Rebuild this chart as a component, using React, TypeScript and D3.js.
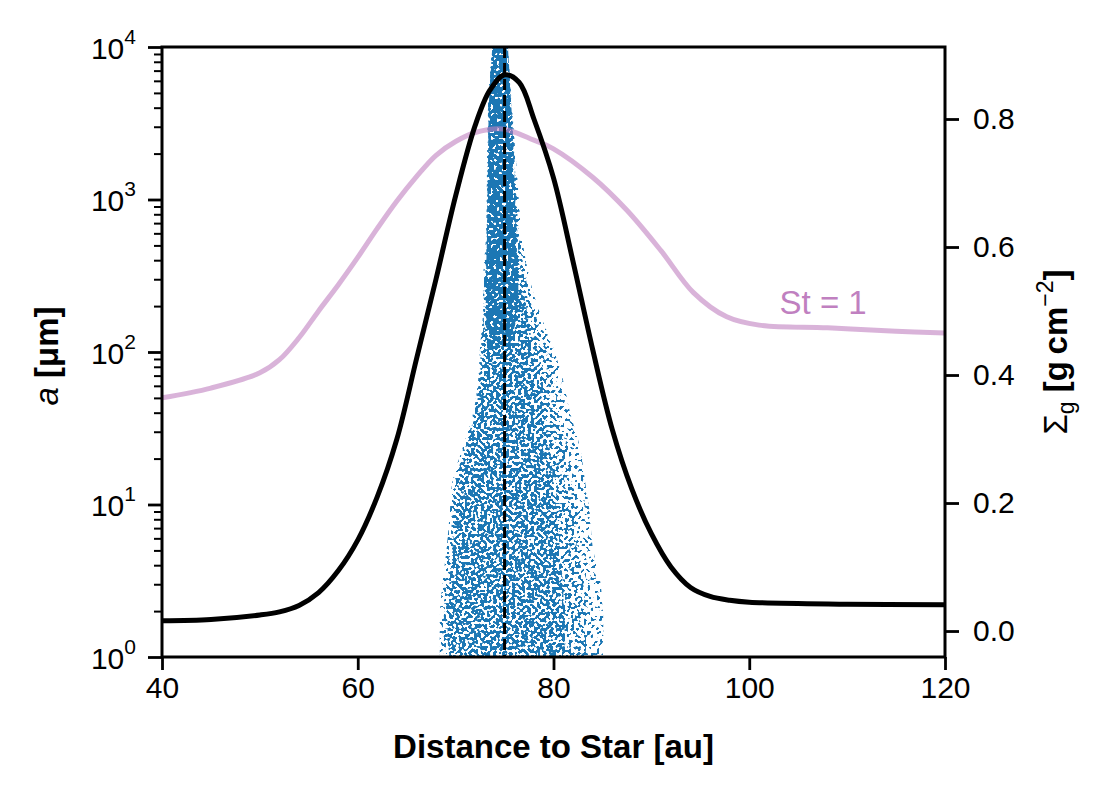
import React, { useEffect, useRef } from "react";
import * as d3 from "d3";

// gas surface density (right axis)
const sigmaR = [40, 45, 50, 52, 54, 56, 58, 60, 62, 64, 66, 68, 70, 72, 73.5, 75, 76.5, 78, 80, 82, 84, 86, 88, 90, 92, 94, 96, 98, 100, 110, 120];
const sigmaGas = [0.016, 0.018, 0.025, 0.03, 0.04, 0.06, 0.094, 0.142, 0.21, 0.3, 0.425, 0.55, 0.68, 0.79, 0.845, 0.869, 0.857, 0.8, 0.708, 0.577, 0.44, 0.315, 0.222, 0.152, 0.1, 0.068, 0.054, 0.048, 0.045, 0.042, 0.041];

// St = 1 particle size (left axis)
const stR = [40, 45, 50, 52, 54, 56, 58, 60, 62, 64, 66, 68, 70, 72, 74.8, 78, 80, 84, 87.5, 91, 94.3, 97.7, 101, 108, 115, 120];
const stSize = [50, 58, 73, 89, 124, 186, 275, 417, 646, 977, 1413, 1950, 2400, 2750, 2900, 2450, 2150, 1400, 850, 460, 245, 170, 150, 144, 137, 133];

// particle cloud, read as density envelopes: size level [um], left / right edge [au]
const cloudSize = [10000, 4040, 1493, 568, 297, 180, 108, 65.5, 39.8, 23.8, 14.5, 8.8, 5.26, 3.2, 1.94, 1];
const cloudOuterL = [73.72, 73.31, 73.2, 73.1, 72.8, 72.8, 72.5, 72.3, 71.8, 70.75, 69.7, 69.4, 69.1, 68.7, 68.4, 68.4];
const cloudOuterR = [75.35, 75.76, 76.27, 76.78, 77.6, 78.6, 79.95, 80.97, 81.7, 82.7, 83.2, 83.7, 84.0, 84.75, 85.06, 85.06];
const cloudMidL = [73.75, 73.35, 73.25, 73.15, 72.9, 72.85, 72.6, 72.4, 71.9, 71.0, 70.0, 69.7, 69.4, 69.0, 68.8, 68.8];
const cloudMidR = [75.3, 75.7, 76.1, 76.5, 77.2, 78.0, 79.2, 80.0, 80.6, 81.3, 81.8, 82.2, 82.6, 83.0, 83.3, 83.3];
const cloudInnerL = [73.8, 73.4, 73.3, 73.2, 73.0, 72.9, 72.7, 72.5, 72.0, 71.2, 70.4, 70.0, 69.7, 69.4, 69.2, 69.2];
const cloudInnerR = [75.3, 75.6, 76.0, 76.3, 76.8, 77.3, 77.9, 78.5, 79.0, 79.6, 80.0, 80.3, 80.6, 80.9, 81.1, 81.1];
const coreSize = [10000, 4040, 1493, 568, 297, 180, 108];
const coreL = [73.75, 73.4, 73.3, 73.2, 73.1, 73.1, 73.5];
const coreR = [75.35, 75.7, 76.0, 76.2, 76.4, 76.3, 75.5];

const peakR = 75;

const xTicks = [40, 60, 80, 100, 120];
const leftTicks = [1, 10, 100, 1000, 10000];
const rightTicks = [0, 0.2, 0.4, 0.6, 0.8];

const W = 1112;
const H = 796;
const m = { left: 162, right: 945, top: 47, bottom: 657 };
const font = "'Liberation Sans', Arial, sans-serif";
const blue = "#1f77b4";
const purple = "#c080c0";

export default function App() {
  const ref = useRef<SVGSVGElement>(null);

  useEffect(() => {
    const svg = d3.select(ref.current);
    svg.selectAll("*").remove();

    const x = d3.scaleLinear().domain([40, 120]).range([m.left, m.right]);
    const yA = d3.scaleLog().domain([1, 1e4]).range([m.bottom, m.top]);
    const yS = d3.scaleLinear().domain([-0.0406, 0.9125]).range([m.bottom, m.top]);

    const defs = svg.append("defs");
    defs
      .append("clipPath")
      .attr("id", "plot")
      .append("rect")
      .attr("x", m.left)
      .attr("y", m.top)
      .attr("width", m.right - m.left)
      .attr("height", m.bottom - m.top);

    // one shared noise field, cut at different levels, so the cloud reads as dots
    const speckle = (id: string, threshold: number) => {
      const f = defs
        .append("filter")
        .attr("id", id)
        .attr("filterUnits", "userSpaceOnUse")
        .attr("x", 0)
        .attr("y", 0)
        .attr("width", W)
        .attr("height", H);
      f.append("feTurbulence")
        .attr("type", "fractalNoise")
        .attr("baseFrequency", 0.32)
        .attr("numOctaves", 1)
        .attr("seed", 5)
        .attr("result", "noise");
      const s = 40;
      f.append("feColorMatrix")
        .attr("in", "noise")
        .attr("type", "matrix")
        .attr("values", `0 0 0 0 0  0 0 0 0 0  0 0 0 0 0  ${s} 0 0 0 ${-s * threshold}`)
        .attr("result", "mask");
      f.append("feComposite").attr("in", "SourceGraphic").attr("in2", "mask").attr("operator", "in");
    };
    speckle("outer", 0.58);
    speckle("mid", 0.52);
    speckle("inner", 0.46);
    speckle("core", 0.36);

    const g = svg.append("g").attr("clip-path", "url(#plot)");

    const cloud = (sizes: number[], L: number[], R: number[]) =>
      d3
        .area<number>()
        .y((d) => yA(d))
        .x0((_, i) => x(L[i]))
        .x1((_, i) => x(R[i]))
        .curve(d3.curveCatmullRom)(sizes);

    g.append("path").attr("d", cloud(cloudSize, cloudOuterL, cloudOuterR)).attr("fill", blue).attr("filter", "url(#outer)");
    g.append("path").attr("d", cloud(cloudSize, cloudMidL, cloudMidR)).attr("fill", blue).attr("filter", "url(#mid)");
    g.append("path").attr("d", cloud(cloudSize, cloudInnerL, cloudInnerR)).attr("fill", blue).attr("filter", "url(#inner)");
    g.append("path").attr("d", cloud(coreSize, coreL, coreR)).attr("fill", blue).attr("filter", "url(#core)");

    const stLine = d3
      .line<number>()
      .x((d) => x(d))
      .y((_, i) => yA(stSize[i]))
      .curve(d3.curveCatmullRom.alpha(0.5));
    g.append("path")
      .attr("d", stLine(stR))
      .attr("fill", "none")
      .attr("stroke", purple)
      .attr("stroke-opacity", 0.6)
      .attr("stroke-width", 5);

    const gasLine = d3
      .line<number>()
      .x((d) => x(d))
      .y((_, i) => yS(sigmaGas[i]))
      .curve(d3.curveCatmullRom.alpha(0.5));
    g.append("path")
      .attr("d", gasLine(sigmaR))
      .attr("fill", "none")
      .attr("stroke", "#000")
      .attr("stroke-width", 5);

    g.append("line")
      .attr("x1", x(peakR))
      .attr("x2", x(peakR))
      .attr("y1", m.top)
      .attr("y2", m.bottom)
      .attr("stroke", "#000")
      .attr("stroke-width", 3)
      .attr("stroke-dasharray", "11,5");

    g.append("text")
      .attr("x", x(103.1))
      .attr("y", yA(178))
      .attr("fill", purple)
      .attr("font-family", font)
      .attr("font-size", 33)
      .text("St = 1");

    // axes
    const styleAxis = (a: d3.Selection<SVGGElement, unknown, null, undefined>) => {
      a.select(".domain").remove();
      a.selectAll(".tick line").attr("stroke", "#000").attr("stroke-width", 2.8);
      a.selectAll(".tick text").attr("font-family", font).attr("font-size", 30).attr("fill", "#000");
    };

    const xAxis = svg
      .append("g")
      .attr("transform", `translate(0,${m.bottom})`)
      .call(d3.axisBottom(x).tickValues(xTicks).tickSize(13).tickPadding(7).tickFormat(d3.format("d")));
    styleAxis(xAxis);

    const rAxis = svg
      .append("g")
      .attr("transform", `translate(${m.right},0)`)
      .call(d3.axisRight(yS).tickValues(rightTicks).tickSize(14).tickPadding(14).tickFormat(d3.format(".1f")));
    styleAxis(rAxis);

    const minor: number[] = [];
    for (let e = 0; e < 4; e++) for (let k = 2; k < 10; k++) minor.push(k * 10 ** e);
    const lMinor = svg
      .append("g")
      .attr("transform", `translate(${m.left},0)`)
      .call(d3.axisLeft(yA).tickValues(minor).tickSize(8).tickFormat(() => ""));
    lMinor.select(".domain").remove();
    lMinor.selectAll(".tick line").attr("stroke", "#000").attr("stroke-width", 2);

    const lAxis = svg
      .append("g")
      .attr("transform", `translate(${m.left},0)`)
      .call(d3.axisLeft(yA).tickValues(leftTicks).tickSize(14).tickFormat(() => ""));
    styleAxis(lAxis);
    lAxis
      .selectAll(".tick")
      .append("text")
      .attr("x", -26)
      .attr("y", 11)
      .attr("text-anchor", "end")
      .attr("font-family", font)
      .attr("font-size", 30)
      .attr("fill", "#000")
      .each(function (d) {
        const t = d3.select(this);
        t.append("tspan").text("10");
        t.append("tspan")
          .attr("dy", -15)
          .attr("font-size", 21)
          .text(String(Math.round(Math.log10(d as number))));
      });

    // frame
    svg
      .append("rect")
      .attr("x", m.left)
      .attr("y", m.top)
      .attr("width", m.right - m.left)
      .attr("height", m.bottom - m.top)
      .attr("fill", "none")
      .attr("stroke", "#000")
      .attr("stroke-width", 3);

    // axis titles
    svg
      .append("text")
      .attr("x", (m.left + m.right) / 2)
      .attr("y", 758)
      .attr("text-anchor", "middle")
      .attr("font-family", font)
      .attr("font-weight", "bold")
      .attr("font-size", 33)
      .text("Distance to Star [au]");

    const yl = svg
      .append("text")
      .attr("transform", `translate(58,356) rotate(-90)`)
      .attr("text-anchor", "middle")
      .attr("font-family", font)
      .attr("font-weight", "bold")
      .attr("font-size", 33);
    yl.append("tspan").attr("font-style", "italic").attr("font-weight", "normal").text("a");
    yl.append("tspan").text(" [μm]");

    const yr = svg
      .append("text")
      .attr("transform", `translate(1067,352) rotate(-90)`)
      .attr("text-anchor", "middle")
      .attr("font-family", font)
      .attr("font-weight", "bold")
      .attr("font-size", 33);
    yr.append("tspan").attr("font-weight", "normal").text("Σ");
    yr.append("tspan").attr("font-weight", "normal").attr("font-size", 23).attr("dy", 7).text("g");
    yr.append("tspan").attr("dy", -7).text(" [g\u2009cm");
    yr.append("tspan").attr("font-weight", "normal").attr("font-size", 23).attr("dy", -14).text("−2");
    yr.append("tspan").attr("dy", 14).text("]");
  }, []);

  return <svg ref={ref} width={W} height={H} style={{ position: "absolute", left: 0, top: 0, background: "#fff" }} />;
}
